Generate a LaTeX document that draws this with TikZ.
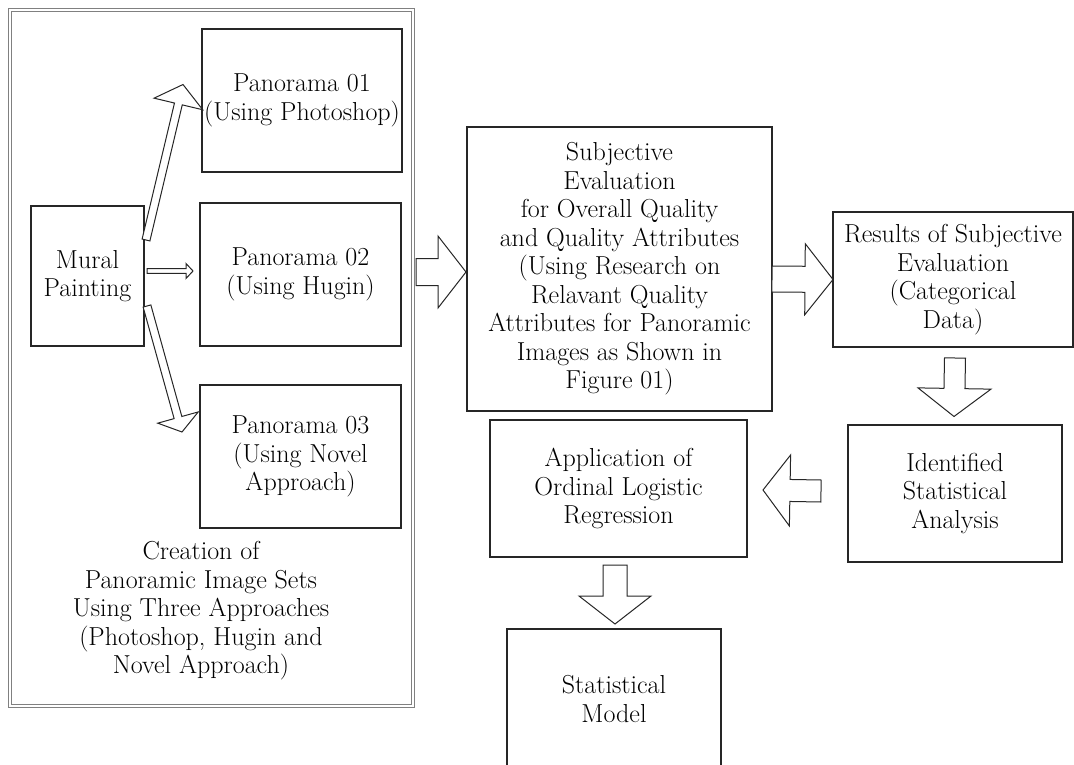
\documentclass[tikz,border=0pt]{standalone}
\usetikzlibrary{positioning, calc}

% hollow block arrow: start, tip, shaft half width, head half width, head length
\newcommand{\hollowarrow}[5]{%
  \path (#1) coordinate (ha-s) (#2) coordinate (ha-e);
  \path ($(ha-e)!#5!(ha-s)$) coordinate (ha-h);
  \draw[flowarrow] ($(ha-s)!#3!90:(ha-e)$) -- ($(ha-h)!#3!90:(ha-e)$)
    -- ($(ha-h)!#4!90:(ha-e)$) -- (ha-e) -- ($(ha-h)!#4!-90:(ha-e)$)
    -- ($(ha-h)!#3!-90:(ha-e)$) -- ($(ha-s)!#3!-90:(ha-e)$) -- cycle;}

\begin{document}
\begin{tikzpicture}[
  x=1pt, y=-1pt,
  every node/.style={font=\fontsize{26}{28.5}\selectfont, align=center, inner sep=0pt, outer sep=0pt},
  box/.style={draw=black!85, line width=1.2pt, fill=white},
  setbox/.style={draw=black!50, line width=1pt, double, double distance=2.5pt},
  flowarrow/.style={draw=black!85, line width=1pt, fill=white}
]
\useasboundingbox (0,0) rectangle (1074,765);

% left panel: creation of the image sets
\node[setbox, minimum width=403pt, minimum height=696pt] (sets) at (211.5,358) {};
\node (setslabel) at (201,611) {Creation of\\Panoramic Image Sets\\Using Three Approaches\\(Photoshop, Hugin and\\Novel Approach)};

\node[box, minimum width=113pt, minimum height=140pt] (mural) at (87.5,276) {Mural\\Painting};
\node[box, minimum width=200pt, minimum height=143pt] (pan1) at (302,100.5) {Panorama 01\\(Using Photoshop)};
\node[box, minimum width=201pt, minimum height=143pt] (pan2) at (300.5,274.5) {Panorama 02\\(Using Hugin)};
\node[box, minimum width=201pt, minimum height=143pt] (pan3) at (300.5,456.5) {Panorama 03\\(Using Novel\\Approach)};

% evaluation and analysis
\node[box, minimum width=305pt, minimum height=284pt] (subj) at (619.5,269) {Subjective\\Evaluation\\for Overall Quality\\and Quality Attributes\\(Using Research on\\Relavant Quality\\Attributes for Panoramic\\Images as Shown in\\Figure 01)};
\node[box, minimum width=240pt, minimum height=135pt] (res) at (953,279.5) {Results of Subjective\\Evaluation\\(Categorical\\Data)};
\node[box, minimum width=214pt, minimum height=137pt] (ident) at (955,493.5) {Identified\\Statistical\\Analysis};
\node[box, minimum width=257pt, minimum height=137pt] (app) at (618.5,488.5) {Application of\\Ordinal Logistic\\Regression};
\node[box, minimum width=214pt, minimum height=140pt] (model) at (614,699) {Statistical\\Model};

\coordinate (tip1) at ($(pan1.west)+(-19,-16)$);

\hollowarrow{$(mural.north east)+(2,34)$}{tip1}{4pt}{25pt}{20pt}
\hollowarrow{$(mural.east)+(3,-5)$}{$(pan2.west)+(-7,-3.5)$}{2.3pt}{7.5pt}{7pt}
\hollowarrow{$(mural.south east)+(3,-40)$}{$(pan3.west)+(-18,-24.5)$}{4pt}{21pt}{15pt}

\hollowarrow{$(subj.west)+(-51,3)$}{$(subj.west)+(-1,3)$}{13.5pt}{36pt}{28pt}
\hollowarrow{$(subj.east)+(0,10)$}{res.west}{13pt}{35.5pt}{28pt}
\hollowarrow{$(res.south)+(2,11)$}{$(ident.north)+(-1,-8.5)$}{10.5pt}{36.5pt}{28pt}
\hollowarrow{$(ident.west)+(-27,-2.5)$}{$(app.east)+(16,1.5)$}{11pt}{35.5pt}{27pt}
\hollowarrow{$(app.south)+(-3.5,8)$}{$(model.north)+(1,-5)$}{12pt}{36pt}{28pt}
\end{tikzpicture}
\end{document}
